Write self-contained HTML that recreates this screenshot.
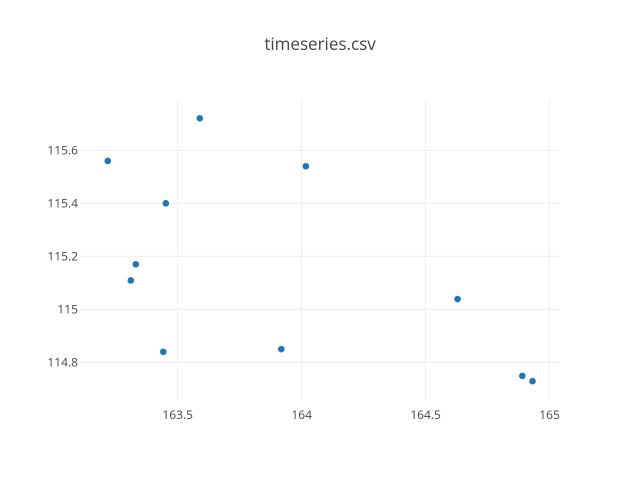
<!DOCTYPE html>
<html><head><meta charset="utf-8"><style>
body{margin:0;background:#fff}
svg text{font-family:"Open Sans","Liberation Sans",sans-serif;fill:#444}
</style></head><body>
<svg id="chart" width="640" height="480" xmlns="http://www.w3.org/2000/svg">
<rect width="640" height="480" fill="#fff"/>
<text x="320" y="50" text-anchor="middle" font-size="17">timeseries.csv</text>
<g id="grid"></g><g id="ticks"></g><g id="points"></g>
</svg>
<script>
const xValues=[163.218,163.589,164.017,163.452,163.331,163.311,164.629,163.442,163.918,164.890,164.931];
const yValues=[115.560,115.721,115.540,115.400,115.170,115.109,115.039,114.840,114.850,114.749,114.729];
const xTicks=[163.5,164,164.5,165];
const xTickLabels=["163.5","164","164.5","165"];
const yTicks=[114.8,115,115.2,115.4,115.6];
const yTickLabels=["114.8","115","115.2","115.4","115.6"];
const L=80,R=560,T=100,B=400;
const xMin=163.106,xMax=165.042,yMin=114.658,yMax=115.790;
const sx=v=>L+(v-xMin)/(xMax-xMin)*(R-L);
const sy=v=>B-(v-yMin)/(yMax-yMin)*(B-T);
const NS="http://www.w3.org/2000/svg";
const grid=document.getElementById('grid'),ticks=document.getElementById('ticks'),pts=document.getElementById('points');
function mk(t,a){const e=document.createElementNS(NS,t);for(const k in a)e.setAttribute(k,a[k]);return e;}
xTicks.forEach((v,i)=>{
 const l=mk('line',{x1:sx(v),x2:sx(v),y1:T,y2:B,stroke:'#eee','stroke-width':1});
 
 
 grid.appendChild(l);
 const t=mk('text',{x:sx(v),y:B+19,'text-anchor':'middle','font-size':12});
 
 
 t.textContent=xTickLabels[i];ticks.appendChild(t);
});
yTicks.forEach((v,i)=>{
 const l=mk('line',{x1:L,x2:R,y1:sy(v),y2:sy(v),stroke:'#eee','stroke-width':1});
 
 
 grid.appendChild(l);
 const t=mk('text',{x:L-2,y:sy(v)+4,'text-anchor':'end','font-size':12});
 
 
 t.textContent=yTickLabels[i];ticks.appendChild(t);
});
xValues.forEach((v,i)=>{
 const c=mk('circle',{cx:sx(v),cy:sy(yValues[i]),r:3.3,fill:'#1f77b4'});
 
 
 pts.appendChild(c);
});
</script>
</body></html>
